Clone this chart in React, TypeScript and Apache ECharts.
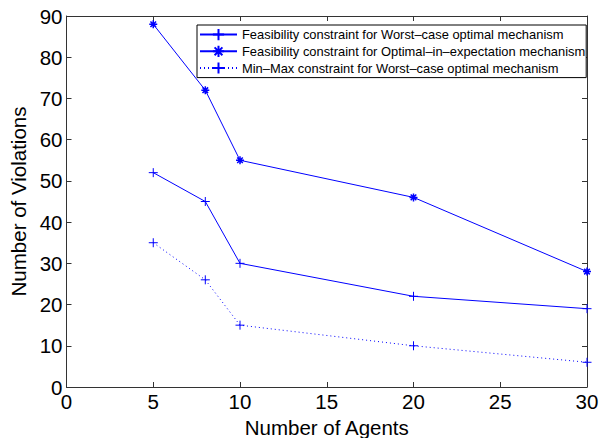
import React, { useEffect, useRef } from "react";
import * as echarts from "echarts";

const agents = [5, 8, 10, 20, 30];
const worstFeas = [52, 45, 30, 22, 19];
const optExpFeas = [88, 72, 55, 46, 28];
const worstMinMax = [35, 26, 15, 10, 6];
const seriesNames = [
  "Feasibility constraint for Worst\u2013case optimal mechanism",
  "Feasibility constraint for Optimal\u2013in\u2013expectation mechanism",
  "Min\u2013Max constraint for Worst\u2013case optimal mechanism",
];

const PLUS = "path://M5,0L5,10M0,5L10,5";
const STAR = "path://M5,0L5,10M0,5L10,5M1.5,1.5L8.5,8.5M8.5,1.5L1.5,8.5";
const BLUE = "#0000ff";
const FONT = "Liberation Sans, Arial, Helvetica, sans-serif";

export default function App() {
  const ref = useRef<HTMLDivElement>(null);
  useEffect(() => {
    const chart = echarts.init(ref.current!, null, { renderer: "svg" });
    const mk = (name: string, ys: number[], symbol: string, size: number, dotted: boolean, bw: number) => ({
      name,
      type: "line",
      data: agents.map((a, i) => [a, ys[i]]),
      symbol,
      symbolSize: size,
      symbolKeepAspect: true,
      showAllSymbol: true,
      lineStyle: { color: BLUE, width: 1, type: dotted ? [1, 3] : "solid" },
      itemStyle: { color: "rgba(0,0,0,0)", borderColor: BLUE, borderWidth: bw },
      emphasis: { disabled: true },
      xAxisIndex: 0,
      yAxisIndex: 0,
    });
    const axisLineStyle = { color: "#333", width: 1 };
    chart.setOption({
      animation: false,
      textStyle: { fontFamily: FONT },
      grid: { left: 66.5, top: 16, right: 14, bottom: 51, containLabel: false, outerBoundsMode: "none" },
      legend: {
        left: 197,
        top: 25,
        orient: "vertical",
        backgroundColor: "#fff",
        borderColor: "#000",
        borderWidth: 1,
        borderRadius: 0,
        padding: [3, 1, 3, 2],
        itemGap: 3.5,
        itemWidth: 37,
        itemHeight: 14,
        textStyle: { fontSize: 12.9, color: "#000", fontFamily: FONT },
        data: seriesNames,
      },
      xAxis: [
        {
          type: "value",
          min: 0,
          max: 30,
          interval: 5,
          position: "bottom",
          name: "Number of Agents",
          nameLocation: "middle",
          nameGap: 26,
          nameTextStyle: { fontSize: 20.5, color: "#000", fontFamily: FONT },
          axisLine: { show: true, onZero: false, lineStyle: axisLineStyle },
          axisTick: { show: true, inside: true, length: 5, lineStyle: axisLineStyle },
          axisLabel: { fontSize: 20.5, color: "#000", margin: 4, fontFamily: FONT },
          splitLine: { show: false },
        },
        {
          type: "value",
          min: 0,
          max: 30,
          interval: 5,
          position: "top",
          axisLine: { show: true, onZero: false, lineStyle: axisLineStyle },
          axisTick: { show: true, inside: true, length: 5, lineStyle: axisLineStyle },
          axisLabel: { show: false },
          splitLine: { show: false },
        },
      ],
      yAxis: [
        {
          type: "value",
          min: 0,
          max: 90,
          interval: 10,
          position: "left",
          name: "Number of Violations",
          nameLocation: "middle",
          nameGap: 38,
          nameTextStyle: { fontSize: 20.5, color: "#000", fontFamily: FONT },
          axisLine: { show: true, onZero: false, lineStyle: axisLineStyle },
          axisTick: { show: true, inside: true, length: 5, lineStyle: axisLineStyle },
          axisLabel: { fontSize: 20.5, color: "#000", margin: 4, fontFamily: FONT },
          splitLine: { show: false },
        },
        {
          type: "value",
          min: 0,
          max: 90,
          interval: 10,
          position: "right",
          axisLine: { show: true, onZero: false, lineStyle: axisLineStyle },
          axisTick: { show: true, inside: true, length: 5, lineStyle: axisLineStyle },
          axisLabel: { show: false },
          splitLine: { show: false },
        },
      ],
      series: [
        mk(seriesNames[0], worstFeas, PLUS, 9, false, 1),
        mk(seriesNames[1], optExpFeas, STAR, 8, false, 1.5),
        mk(seriesNames[2], worstMinMax, PLUS, 9, true, 1),
      ],
    });
    return () => chart.dispose();
  }, []);
  return <div ref={ref} style={{ width: 601, height: 438, position: "absolute", left: 0, top: 0, background: "#fff" }} />;
}
